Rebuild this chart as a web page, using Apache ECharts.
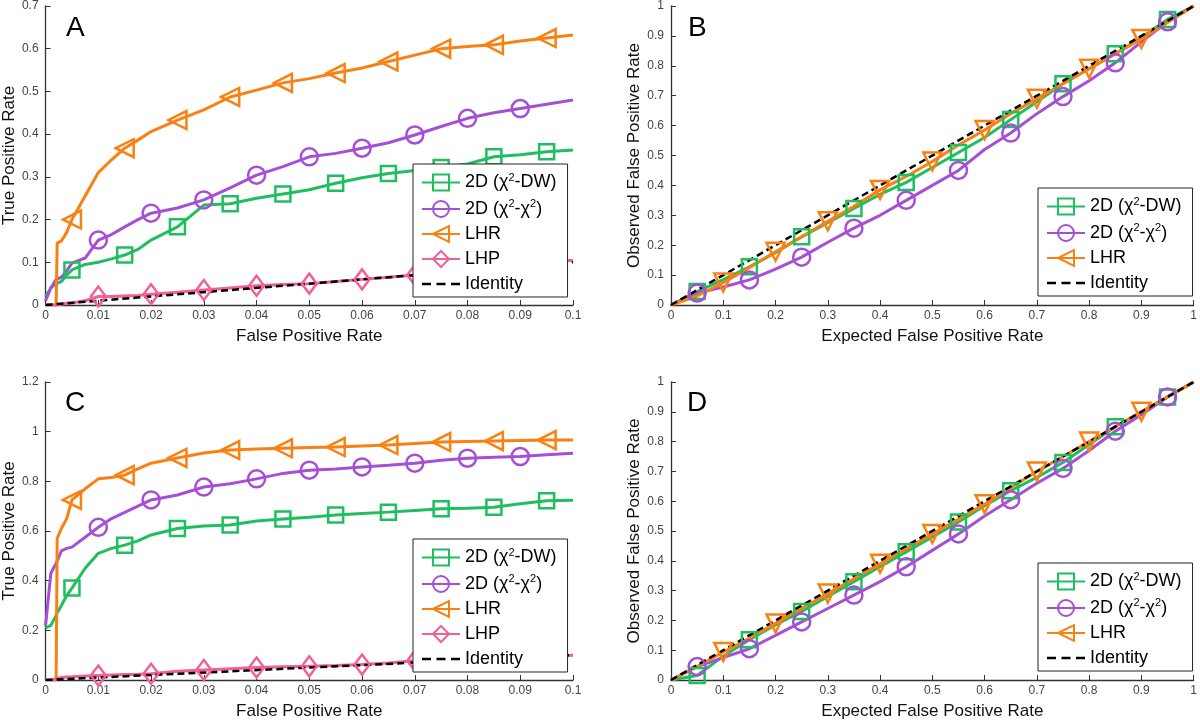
<!DOCTYPE html>
<html>
<head>
<meta charset="utf-8">
<script src="https://cdn.jsdelivr.net/npm/echarts@6/dist/echarts.min.js"></script>
<style>
  html, body { margin: 0; padding: 0; background: #fff; }
  #main { width: 1200px; height: 722px; }
</style>
</head>
<body>
<div id="main"></div>
<script>
// ---- data ----
// panels A and C: false positive rate (x) grid
var fpr = [0, 0.001, 0.002, 0.0022, 0.003, 0.004, 0.005, 0.0075, 0.01, 0.0125, 0.015, 0.0175, 0.02, 0.025, 0.03, 0.035, 0.04, 0.045, 0.05, 0.055, 0.06, 0.065, 0.07, 0.075, 0.08, 0.085, 0.09, 0.095, 0.1]

// panel A, true positive rate
var aDW  = [0.02, 0.04, 0.05, 0.05, 0.055, 0.07, 0.082, 0.095, 0.1, 0.108, 0.117, 0.13, 0.152, 0.183, 0.234, 0.237, 0.25, 0.26, 0.27, 0.285, 0.298, 0.308, 0.315, 0.322, 0.33, 0.347, 0.352, 0.359, 0.363]
var aChi = [0.01, 0.04, 0.06, 0.06, 0.065, 0.08, 0.098, 0.11, 0.152, 0.165, 0.183, 0.2, 0.215, 0.227, 0.246, 0.274, 0.304, 0.324, 0.347, 0.355, 0.367, 0.38, 0.398, 0.418, 0.437, 0.45, 0.46, 0.47, 0.48]
var aLHR = [0, 0, 0, 0.145, 0.15, 0.17, 0.2, 0.255, 0.31, 0.34, 0.367, 0.386, 0.406, 0.433, 0.457, 0.487, 0.503, 0.52, 0.53, 0.543, 0.555, 0.57, 0.585, 0.6, 0.605, 0.609, 0.618, 0.625, 0.632]
var aLHP = [0, 0, 0, 0, 0.002, 0.004, 0.005, 0.01, 0.02, 0.02, 0.021, 0.022, 0.025, 0.03, 0.035, 0.04, 0.045, 0.048, 0.05, 0.055, 0.06, 0.065, 0.07, 0.078, 0.085, 0.09, 0.095, 0.1, 0.105]

// panel C, true positive rate
var cDW  = [0.21, 0.22, 0.26, 0.27, 0.3, 0.34, 0.37, 0.45, 0.51, 0.53, 0.543, 0.56, 0.584, 0.61, 0.62, 0.624, 0.64, 0.648, 0.655, 0.664, 0.67, 0.676, 0.683, 0.69, 0.692, 0.696, 0.71, 0.722, 0.724]
var cChi = [0.22, 0.43, 0.47, 0.48, 0.52, 0.53, 0.535, 0.575, 0.615, 0.65, 0.675, 0.7, 0.725, 0.745, 0.777, 0.79, 0.81, 0.832, 0.845, 0.85, 0.858, 0.865, 0.873, 0.885, 0.893, 0.897, 0.9, 0.907, 0.913]
var cLHR = [0, 0, 0, 0.57, 0.61, 0.65, 0.725, 0.77, 0.81, 0.815, 0.825, 0.85, 0.873, 0.894, 0.914, 0.926, 0.93, 0.933, 0.936, 0.938, 0.942, 0.946, 0.952, 0.958, 0.96, 0.962, 0.964, 0.966, 0.966]
var cLHP = [0, 0, 0.005, 0.008, 0.01, 0.012, 0.013, 0.016, 0.018, 0.02, 0.022, 0.023, 0.025, 0.035, 0.04, 0.045, 0.05, 0.053, 0.055, 0.058, 0.062, 0.068, 0.078, 0.082, 0.085, 0.088, 0.092, 0.096, 0.1]

// panels B and D: expected false positive rate (x) grid
var efpr = [0, 0.05, 0.1, 0.15, 0.2, 0.25, 0.3, 0.35, 0.4, 0.45, 0.5, 0.55, 0.6, 0.65, 0.7, 0.75, 0.8, 0.85, 0.9, 0.95, 1]

// panel B, observed false positive rate
var bDW  = [0, 0.045, 0.085, 0.128, 0.175, 0.228, 0.275, 0.323, 0.37, 0.41, 0.46, 0.51, 0.56, 0.62, 0.68, 0.74, 0.79, 0.84, 0.895, 0.955, 1]
var bChi = [0, 0.04, 0.06, 0.084, 0.12, 0.16, 0.21, 0.257, 0.3, 0.35, 0.4, 0.45, 0.52, 0.575, 0.64, 0.697, 0.75, 0.81, 0.88, 0.947, 1]
var bLHR = [0, 0.03, 0.075, 0.125, 0.178, 0.228, 0.28, 0.33, 0.385, 0.43, 0.48, 0.535, 0.585, 0.64, 0.69, 0.74, 0.79, 0.84, 0.89, 0.945, 1]

// panel D, observed false positive rate
var dDW  = [0, 0.015, 0.08, 0.135, 0.185, 0.23, 0.28, 0.33, 0.38, 0.43, 0.48, 0.53, 0.585, 0.635, 0.68, 0.73, 0.79, 0.85, 0.9, 0.95, 1]
var dChi = [0, 0.045, 0.075, 0.105, 0.15, 0.195, 0.24, 0.285, 0.33, 0.38, 0.435, 0.49, 0.55, 0.605, 0.66, 0.71, 0.77, 0.835, 0.89, 0.95, 1]
var dLHR = [0, 0.045, 0.094, 0.14, 0.19, 0.24, 0.29, 0.34, 0.39, 0.44, 0.49, 0.54, 0.59, 0.645, 0.7, 0.75, 0.8, 0.85, 0.9, 0.95, 1]

// where the markers sit along each curve
var marksHalf = [0.005, 0.015, 0.025, 0.035, 0.045, 0.055, 0.065, 0.075, 0.085, 0.095]
var marksFull = [0.01, 0.02, 0.03, 0.04, 0.05, 0.06, 0.07, 0.08, 0.09]
var marksB5  = [0.05, 0.15, 0.25, 0.35, 0.45, 0.55, 0.65, 0.75, 0.85, 0.95]
var marksB10 = [0.1, 0.2, 0.3, 0.4, 0.5, 0.6, 0.7, 0.8, 0.9]

var NAME_DW = '2D (χ²-DW)'
var NAME_CHI = '2D (χ²-χ²)'
var NAME_LHR = 'LHR'
var NAME_LHP = 'LHP'
var NAME_ID = 'Identity'

var GREEN = '#1fbf5f', PURPLE = '#a64fd6', ORANGE = '#fb8012', PINK = '#f2609a'
var FONT = 'Liberation Sans, Arial, Helvetica, sans-serif'
// dashed legend icon for the identity line (three dashes)
var DASH_ICON = 'path://M0,0h9v2.6h-9z M14.5,0h9v2.6h-9z M29,0h9v2.6h-9z'

// one coloured curve: line through all points, hollow marker only at marker x's
function curve(name, xs, ys, g, color, symbol, size, marks, rot) {
    return {
        name: name,
        type: 'line',
        xAxisIndex: g,
        yAxisIndex: g,
        symbol: symbol,
        symbolSize: size,
        symbolRotate: symbol === 'triangle' ? 90 : 0,
        lineStyle: { color: color, width: 3 },
        itemStyle: { color: 'rgba(255,255,255,0)', borderColor: color, borderWidth: 2.5 },
        emphasis: { disabled: true },
        data: xs.map(function (x, i) {
            var on = marks.some(function (m) { return Math.abs(m - x) < 1e-9 })
            if (!on) return { value: [x, ys[i]], symbol: 'none' }
            var item = { value: [x, ys[i]] }
            if (rot !== undefined) item.symbolRotate = rot
            return item
        })
    }
}

function identity(g, max) {
    return {
        name: NAME_ID,
        type: 'line',
        xAxisIndex: g,
        yAxisIndex: g,
        symbol: 'none',
        lineStyle: { color: '#000', width: 2.5, type: [7, 4] },
        itemStyle: { color: '#000' },
        emphasis: { disabled: true },
        data: [[0, 0], [max, max]]
    }
}

function fmt(v) { return String(+v.toFixed(2)) }

function xAxis(g, max, interval, name) {
    return {
        gridIndex: g, type: 'value', min: 0, max: max, interval: interval,
        name: name, nameLocation: 'middle', nameGap: 23,
        nameTextStyle: { fontSize: 17, color: '#111', fontFamily: FONT },
        axisLine: { show: true, lineStyle: { color: '#333', width: 1.3 } },
        axisTick: { show: true, inside: true, length: 5, lineStyle: { color: '#333' } },
        axisLabel: { fontSize: 12, color: '#444', margin: 5, formatter: fmt, fontFamily: FONT },
        splitLine: { show: false }
    }
}

function yAxis(g, max, interval, name, gap) {
    return {
        gridIndex: g, type: 'value', min: 0, max: max, interval: interval,
        name: name, nameLocation: 'middle', nameGap: gap,
        nameTextStyle: { fontSize: 17, color: '#111', fontFamily: FONT },
        axisLine: { show: true, lineStyle: { color: '#333', width: 1.3 } },
        axisTick: { show: true, inside: true, length: 5, lineStyle: { color: '#333' } },
        axisLabel: { fontSize: 12, color: '#444', margin: 7, formatter: fmt, fontFamily: FONT },
        splitLine: { show: false }
    }
}

function legend(left, top, names) {
    return {
        left: left, top: top, orient: 'vertical',
        data: names.map(function (n) {
            return n === NAME_ID ? { name: n, icon: DASH_ICON } : { name: n }
        }),
        selectedMode: false,
        backgroundColor: '#fff',
        borderColor: '#222', borderWidth: 1, borderRadius: 0,
        padding: [8, 11, 4, 8],
        itemGap: 7, itemWidth: 38, itemHeight: 20,
        formatter: function (n) { return n.replace(/²/g, '{s|2}') },
        textStyle: {
            fontSize: 18, color: '#000', fontFamily: FONT,
            rich: { s: { fontSize: 11, color: '#000', fontFamily: FONT, padding: [0, 0, 10, 0] } }
        }
    }
}

function letter(t, x, y) {
    return { type: 'text', left: x, top: y, style: { text: t, fontSize: 28, fill: '#000', font: '28px ' + FONT } }
}

var chart = echarts.init(document.getElementById('main'))

var option = {
    animation: false,
    backgroundColor: '#fff',
    grid: [
        { left: 45, top: 6, width: 528, height: 299 },
        { left: 671, top: 6, width: 526, height: 299 },
        { left: 45, top: 382, width: 528, height: 298 },
        { left: 671, top: 382, width: 526, height: 298 }
    ],
    xAxis: [
        xAxis(0, 0.1, 0.01, 'False Positive Rate'),
        xAxis(1, 1, 0.1, 'Expected False Positive Rate'),
        xAxis(2, 0.1, 0.01, 'False Positive Rate'),
        xAxis(3, 1, 0.1, 'Expected False Positive Rate')
    ],
    yAxis: [
        yAxis(0, 0.7, 0.1, 'True Positive Rate', 27),
        yAxis(1, 1, 0.1, 'Observed False Positive Rate', 28),
        yAxis(2, 1.2, 0.2, 'True Positive Rate', 27),
        yAxis(3, 1, 0.1, 'Observed False Positive Rate', 28)
    ],
    legend: [
        legend(413, 164, [NAME_DW, NAME_CHI, NAME_LHR, NAME_LHP, NAME_ID]),
        legend(1038, 188, [NAME_DW, NAME_CHI, NAME_LHR, NAME_ID]),
        legend(413, 539, [NAME_DW, NAME_CHI, NAME_LHR, NAME_LHP, NAME_ID]),
        legend(1038, 563, [NAME_DW, NAME_CHI, NAME_LHR, NAME_ID])
    ],
    graphic: [letter('A', 66, 14), letter('B', 688, 14), letter('C', 65, 389), letter('D', 687, 389)],
    series: [
        curve(NAME_DW, fpr, aDW, 0, GREEN, 'rect', 15, marksHalf),
        curve(NAME_CHI, fpr, aChi, 0, PURPLE, 'circle', 17, marksFull),
        curve(NAME_LHR, fpr, aLHR, 0, ORANGE, 'triangle', 18, marksHalf),
        curve(NAME_LHP, fpr, aLHP, 0, PINK, 'diamond', [15, 20], marksFull),
        identity(0, 0.1),

        curve(NAME_DW, efpr, bDW, 1, GREEN, 'rect', 15, marksB5),
        curve(NAME_CHI, efpr, bChi, 1, PURPLE, 'circle', 17, marksB5),
        curve(NAME_LHR, efpr, bLHR, 1, ORANGE, 'triangle', 18, marksB10, 180),
        identity(1, 1),

        curve(NAME_DW, fpr, cDW, 2, GREEN, 'rect', 15, marksHalf),
        curve(NAME_CHI, fpr, cChi, 2, PURPLE, 'circle', 17, marksFull),
        curve(NAME_LHR, fpr, cLHR, 2, ORANGE, 'triangle', 18, marksHalf),
        curve(NAME_LHP, fpr, cLHP, 2, PINK, 'diamond', [15, 20], marksFull),
        identity(2, 0.1),

        curve(NAME_DW, efpr, dDW, 3, GREEN, 'rect', 15, marksB5),
        curve(NAME_CHI, efpr, dChi, 3, PURPLE, 'circle', 17, marksB5),
        curve(NAME_LHR, efpr, dLHR, 3, ORANGE, 'triangle', 18, marksB10, 180),
        identity(3, 1)
    ]
}

option && chart.setOption(option)
</script>
</body>
</html>
